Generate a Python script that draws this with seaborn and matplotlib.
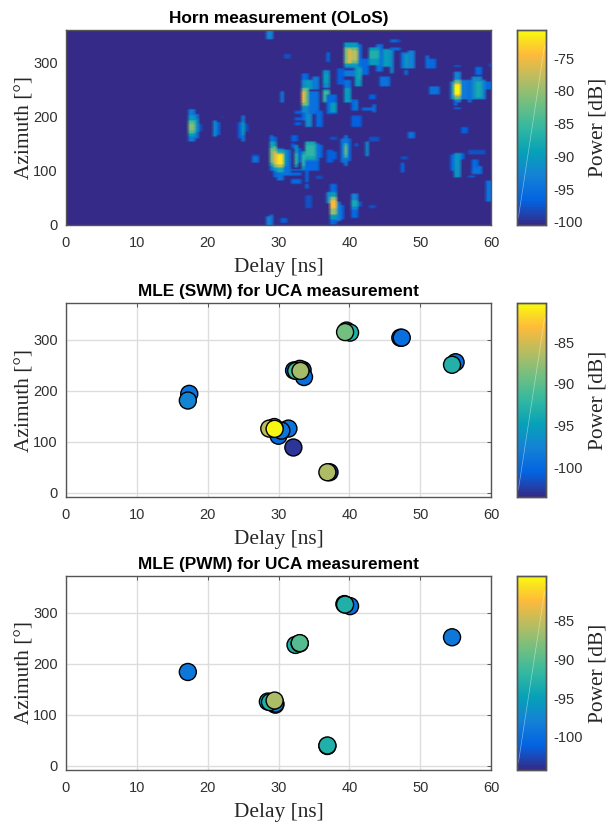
"""
Horn measurement power map next to the SWM and PWM estimates for the UCA
"""
import numpy as np
import pandas as pd
import matplotlib
matplotlib.use('Agg')
import matplotlib.pyplot as plt
import seaborn as sns
from matplotlib.cm import ScalarMappable
from matplotlib.colors import LinearSegmentedColormap, Normalize

# Horn map, read off the picture cluster by cluster as
# (delay from, delay to, azimuth from, azimuth to, power), later patches paint over earlier ones
HORN_FLOOR = -100.5

horn_left = [
    (17.1, 18.6, 160, 196, -95), (18.1, 18.6, 163, 206, -95), (17.5, 18.1, 156, 214, -94),
    (17.5, 18.1, 163, 203, -90), (17.1, 17.5, 169, 188, -90), (18.1, 18.6, 172, 197, -91),
    (17.5, 18.1, 169, 193, -84), (17.5, 18.1, 175, 188, -81), (18.6, 19.0, 172, 186, -98),
    (21.1, 21.55, 166, 189, -96), (20.6, 21.1, 163, 194, -92), (21.65, 22.0, 196, 201, -99.5),
    (24.1, 24.6, 162, 189, -97), (25.1, 25.6, 172, 186, -98), (24.6, 25.1, 154, 203, -94),
    (24.6, 25.1, 166, 189, -90), (26.1, 27.15, 116, 130, -98), (26.5, 27.15, 116, 126, -95),
]
horn_main = [
    (28.57, 29.1, 101, 166, -95), (28.57, 29.1, 111, 154, -88), (28.57, 29.1, 117, 141, -82),
    (29.1, 29.65, 89, 163, -96), (29.1, 29.65, 101, 154, -90), (29.1, 29.65, 108, 146, -82),
    (29.1, 29.65, 114, 135, -76), (29.65, 30.7, 83, 141, -95), (29.65, 30.7, 98, 138, -88),
    (29.65, 30.7, 108, 132, -78), (30.0, 30.7, 114, 130, -72), (30.7, 31.6, 92, 138, -95),
    (30.7, 31.2, 111, 138, -91), (31.6, 32.6, 155, 166, -97), (31.6, 32.1, 142, 151, -97),
    (32.6, 33.0, 117, 142, -97), (32.05, 32.6, 108, 148, -91), (32.05, 32.6, 114, 132, -86),
    (33.04, 33.6, 104, 135, -90), (33.04, 33.6, 111, 129, -86),
    (32.0, 33.6, 100, 104, -95), (31.8, 33.4, 92, 97, -96), (32.0, 33.4, 77, 86, -96),
    (33.6, 34.0, 80, 117, -96), (33.6, 34.0, 68, 76, -96),
    (34.0, 35.6, 102, 118, -96), (34.0, 35.15, 118, 155, -93), (34.0, 35.15, 123, 154, -88),
    (34.0, 35.15, 129, 148, -86), (35.15, 35.6, 120, 151, -94), (35.6, 36.15, 126, 149, -96),
    (35.15, 36.1, 86, 91, -98), (36.6, 37.7, 117, 140, -97), (37.5, 38.1, 123, 135, -97),
    (38.6, 39.05, 116, 161, -95), (39.5, 40.1, 118, 160, -96), (39.05, 39.5, 109, 166, -94),
    (39.05, 39.5, 126, 151, -85), (39.05, 39.5, 132, 146, -82), (42.07, 42.64, 128, 153, -92),
    (43.0, 44.1, 155, 163, -98), (40.6, 41.1, 146, 151, -97), (37.5, 38.1, 159, 163, -98),
]
horn_low = [
    (37.13, 38.1, 1, 75, -96), (36.57, 37.13, 40, 61, -92), (38.1, 38.6, 9, 44, -93),
    (38.6, 39.15, 11, 37, -96), (37.13, 38.1, 12, 61, -90), (37.13, 38.1, 21, 52, -80),
    (37.13, 38.1, 31, 46, -75), (40.5, 41.04, 15, 27, -96), (40.1, 41.04, 28, 58, -93),
    (40.1, 41.04, 34, 46, -88), (41.04, 41.6, 34, 43, -97), (42.6, 43.6, 31, 37, -98),
    (34.0, 34.7, 32, 54, -98), (28.1, 29.04, 0, 15, -93), (28.6, 29.04, 0, 20, -94),
    (30.1, 31.06, 6, 12, -97), (28.1, 29.04, 345, 360, -93),
]
horn_mid = [
    (30.07, 30.7, 228, 246, -94), (33.04, 34.07, 194, 280, -96), (33.04, 34.07, 209, 268, -92),
    (33.6, 34.6, 182, 222, -92), (34.7, 35.6, 252, 274, -94), (34.0, 34.7, 252, 269, -90),
    (32.1, 33.4, 206, 212, -97), (32.1, 33.4, 195, 200, -97), (32.4, 33.0, 186, 191, -97),
    (34.45, 35.5, 206, 246, -95), (35.1, 36.1, 182, 212, -96), (36.1, 37.1, 255, 286, -92),
    (36.3, 37.0, 262, 280, -90), (36.1, 37.2, 228, 250, -88), (36.3, 37.0, 231, 246, -85),
    (37.0, 38.45, 206, 240, -96), (37.5, 38.2, 209, 226, -90), (38.45, 39.05, 261, 289, -97),
    (39.15, 40.0, 228, 268, -95), (39.15, 40.0, 228, 252, -90), (40.1, 41.1, 212, 231, -96),
    (40.6, 41.1, 212, 228, -94), (41.74, 43.6, 212, 218, -96), (43.06, 43.6, 210, 222, -95),
    (40.1, 41.5, 181, 203, -97), (42.7, 43.6, 234, 240, -97), (44.1, 45.5, 258, 274, -95),
    (33.04, 34.07, 221, 252, -82), (33.1, 33.98, 228, 248, -75),
]
horn_top = [
    (30.6, 31.6, 308, 317, -98), (36.57, 37.13, 303, 320, -96), (39.15, 41.74, 289, 335, -95),
    (39.5, 41.1, 292, 338, -90), (39.5, 41.1, 298, 329, -82), (39.7, 41.1, 305, 323, -78),
    (39.7, 40.33, 298, 326, -76), (39.5, 41.0, 274, 286, -94), (40.57, 41.74, 258, 292, -90),
    (41.1, 41.65, 268, 289, -88), (41.74, 42.7, 277, 308, -96), (43.6, 44.6, 283, 335, -95),
    (42.7, 44.3, 295, 329, -90), (42.7, 44.3, 308, 323, -87), (45.0, 46.0, 292, 326, -90),
    (45.74, 46.0, 280, 320, -92), (46.0, 46.6, 337, 343, -96), (46.6, 47.15, 339, 344, -98),
    (46.0, 47.15, 323, 329, -96), (47.15, 49.1, 289, 320, -95), (47.7, 48.3, 289, 317, -90),
    (48.47, 49.1, 289, 322, -93), (47.6, 48.1, 277, 285, -95), (50.6, 51.15, 289, 312, -95),
    (51.15, 52.1, 289, 308, -96), (51.5, 52.7, 242, 257, -95),
]
horn_right = [
    (54.1, 54.7, 234, 265, -92), (54.7, 55.86, 228, 283, -93), (54.7, 55.86, 234, 268, -83),
    (54.7, 55.86, 240, 262, -75), (54.9, 55.6, 243, 258, -71), (55.86, 56.56, 234, 268, -94),
    (56.56, 57.0, 226, 268, -95), (56.56, 57.0, 237, 258, -92), (57.0, 57.5, 237, 262, -95),
    (58.2, 59.15, 234, 268, -93), (57.5, 58.7, 234, 274, -92), (57.6, 58.5, 237, 265, -88),
    (57.6, 58.5, 277, 291, -96), (59.15, 60.0, 250, 265, -96), (54.7, 55.7, 214, 218, -96),
    (54.7, 55.2, 221, 228, -96), (54.9, 55.6, 292, 295, -97), (59.6, 60.0, 294, 298, -97),
    (54.2, 54.6, 100, 129, -96), (55.6, 56.1, 122, 133, -96), (54.6, 55.6, 89, 132, -91),
    (57.5, 58.7, 95, 108, -95), (57.5, 58.0, 108, 120, -96), (56.6, 57.75, 88, 92, -96),
    (57.0, 59.0, 131, 138, -98), (55.6, 56.5, 169, 181, -97), (59.3, 60.0, 43, 83, -95),
    (48.2, 49.1, 162, 172, -95), (47.2, 47.5, 98, 114, -96), (47.2, 48.1, 123, 127, -98),
]

# MLE (SWM) estimates, in drawing order
swm_delay = [32.1, 37.2, 30.0, 47.2, 47.4, 55.0, 33.4, 32.2, 33.6, 39.6, 17.4, 31.4, 30.4, 33.0, 17.2,
             29.4, 40.1, 54.5, 32.5, 39.4, 36.9, 33.1, 28.7, 29.45]
swm_azimuth = [89, 40.5, 112, 304, 304, 256, 241, 240, 227, 318, 194, 126, 122, 243, 181,
               129, 314, 251, 239, 315, 40.5, 239, 126, 125.5]
swm_power = [-103, -103, -100, -100, -99.5, -99.5, -102, -101, -99.5, -99, -99, -99, -99, -99, -97.5,
             -93, -93, -93, -91, -89, -86.5, -87, -86, -80.5]

# MLE (PWM) estimates, in drawing order
pwm_delay = [17.2, 54.5, 40.1, 29.55, 29.55, 28.5, 39.3, 39.4, 36.9, 36.9, 28.8, 32.4, 33.0, 33.0, 29.45]
pwm_azimuth = [184, 252, 313, 120, 122, 126, 317, 316, 39, 40, 125, 237, 240, 240.5, 128]
pwm_power = [-99, -99, -99.5, -98, -98, -94, -94, -93, -94, -93, -93, -93, -91, -90, -86]

delay_ticks = [0, 10, 20, 30, 40, 50, 60]
az_ticks = [0, 100, 200, 300]

horn_cbar_ticks = [-100, -95, -90, -85, -80, -75]
swm_cbar_ticks = [-100, -95, -90, -85]
pwm_cbar_ticks = [-100, -95, -90, -85]

# MATLAB's older parula
parula = LinearSegmentedColormap.from_list('parula', [
    (0.2081, 0.1663, 0.5292), (0.0117, 0.3875, 0.8820), (0.0779, 0.5040, 0.8384),
    (0.0240, 0.6300, 0.7200), (0.1986, 0.7214, 0.6310), (0.4420, 0.7481, 0.5033),
    (0.7200, 0.7400, 0.3800), (0.9955, 0.7300, 0.2300), (0.9763, 0.9831, 0.0538)])

SERIF = 'Liberation Serif'
SANS = 'Liberation Sans'
FRAME = '#555555'
DELAY_STEP = 0.5
AZ_STEP = 3


def add_axes_px(fig, left, top, right, bottom):
    """Axes from pixel edges, y measured from the top of the picture"""
    w, h = fig.get_size_inches() * fig.dpi
    return fig.add_axes([left / w, 1 - bottom / h, (right - left) / w, (bottom - top) / h])


def style_axes(ax, title):
    ax.set_title(title, fontsize=12.4, fontweight='bold', family=SANS, color='black', pad=5)
    ax.set_xlabel('Delay [ns]', fontsize=15.4, family=SERIF, labelpad=6)
    ax.set_ylabel('Azimuth [°]', fontsize=15.4, family=SERIF, labelpad=-1)
    ax.tick_params(direction='in', length=3, width=0.7, color=FRAME, top=True, right=True,
                   labelsize=10.5, labelcolor='#303030')
    ax.tick_params(axis='x', pad=8)
    ax.tick_params(axis='y', pad=6)
    for side in ax.spines.values():
        side.set_visible(True)
        side.set_color(FRAME)
        side.set_linewidth(1.0)


def style_cbar(cax, ticks):
    cax.set_xticks([])
    cax.yaxis.set_ticks_position('right')
    cax.yaxis.set_label_position('right')
    cax.set_yticks(ticks)
    cax.set_yticklabels([str(t) for t in ticks], family=SANS)
    cax.tick_params(axis='y', direction='in', length=2.5, width=0.7, color=FRAME,
                    labelsize=10.5, labelcolor='#303030', pad=5)
    cax.set_ylabel('Power [dB]', fontsize=15.4, family=SERIF, labelpad=4)
    # faint diagonal seam left by the original export
    cax.plot([0.05, 0.95], [0.04, 0.92], transform=cax.transAxes, color='white', lw=0.5, alpha=0.45)
    for side in cax.spines.values():
        side.set_visible(True)
        side.set_color(FRAME)
        side.set_linewidth(1.0)


def build_horn_table():
    delays = np.arange(0, 60 + DELAY_STEP, DELAY_STEP)
    azimuths = np.arange(0, 360 + AZ_STEP, AZ_STEP)
    grid = np.full((len(azimuths), len(delays)), HORN_FLOOR)
    for cluster in [horn_left, horn_main, horn_low, horn_mid, horn_top, horn_right]:
        for d0, d1, a0, a1, p in cluster:
            rows = np.where((azimuths >= a0) & (azimuths <= a1))[0]
            cols = np.where((delays >= d0) & (delays <= d1))[0]
            grid[np.ix_(rows, cols)] = p
    return pd.DataFrame(grid, index=azimuths, columns=delays)


def plot_scatter_panel(fig, top, bottom, title, delay, azimuth, power, vmin, vmax, ticks):
    ax = add_axes_px(fig, 66, top, 491, bottom)
    cax = add_axes_px(fig, 517, top, 546, bottom)
    df = pd.DataFrame({'delay': delay, 'azimuth': azimuth, 'power': power})
    norm = Normalize(vmin, vmax)
    ax.grid(True, color='#dddddd', lw=1.0, zorder=0)
    ax.set_axisbelow(True)
    sns.scatterplot(data=df, x='delay', y='azimuth', hue='power', hue_norm=norm, palette=parula,
                    s=150, edgecolor='black', linewidth=1.0, legend=False, ax=ax, zorder=3)
    ax.set_xlim(0, 60)
    ax.set_ylim(-8, 372)
    ax.set_xticks(delay_ticks)
    ax.set_yticks(az_ticks)
    ax.set_xticklabels([str(t) for t in delay_ticks], family=SANS)
    ax.set_yticklabels([str(t) for t in az_ticks], family=SANS)
    style_axes(ax, title)
    fig.colorbar(ScalarMappable(norm=norm, cmap=parula), cax=cax)
    style_cbar(cax, ticks)


def main():
    sns.set_style('white')
    fig = plt.figure(figsize=(6.08, 8.25), dpi=100)

    # Horn power map, gouraud gives the soft look of the exported bitmap
    ax = add_axes_px(fig, 66, 30, 491, 225)
    cax = add_axes_px(fig, 517, 30, 546, 225)
    table = build_horn_table()
    sns.heatmap(table, ax=ax, cbar_ax=cax, cmap=parula, vmin=HORN_FLOOR, vmax=-70.7,
                xticklabels=False, yticklabels=False, shading='gouraud', rasterized=True)
    ax.set_xlim(0, table.shape[1] - 1)
    ax.set_ylim(0, table.shape[0] - 1)
    ax.set_xticks([t / DELAY_STEP for t in delay_ticks])
    ax.set_yticks([t / AZ_STEP for t in az_ticks])
    ax.set_xticklabels([str(t) for t in delay_ticks], family=SANS, rotation=0)
    ax.set_yticklabels([str(t) for t in az_ticks], family=SANS, rotation=0)
    style_axes(ax, 'Horn measurement (OLoS)')
    style_cbar(cax, horn_cbar_ticks)

    plot_scatter_panel(fig, 303, 497, 'MLE (SWM) for UCA measurement',
                       swm_delay, swm_azimuth, swm_power, -103.6, -80.3, swm_cbar_ticks)
    plot_scatter_panel(fig, 576, 770, 'MLE (PWM) for UCA measurement',
                       pwm_delay, pwm_azimuth, pwm_power, -104.3, -79.2, pwm_cbar_ticks)

    fig.savefig('out.png', dpi=100)


if __name__ == '__main__':
    main()
